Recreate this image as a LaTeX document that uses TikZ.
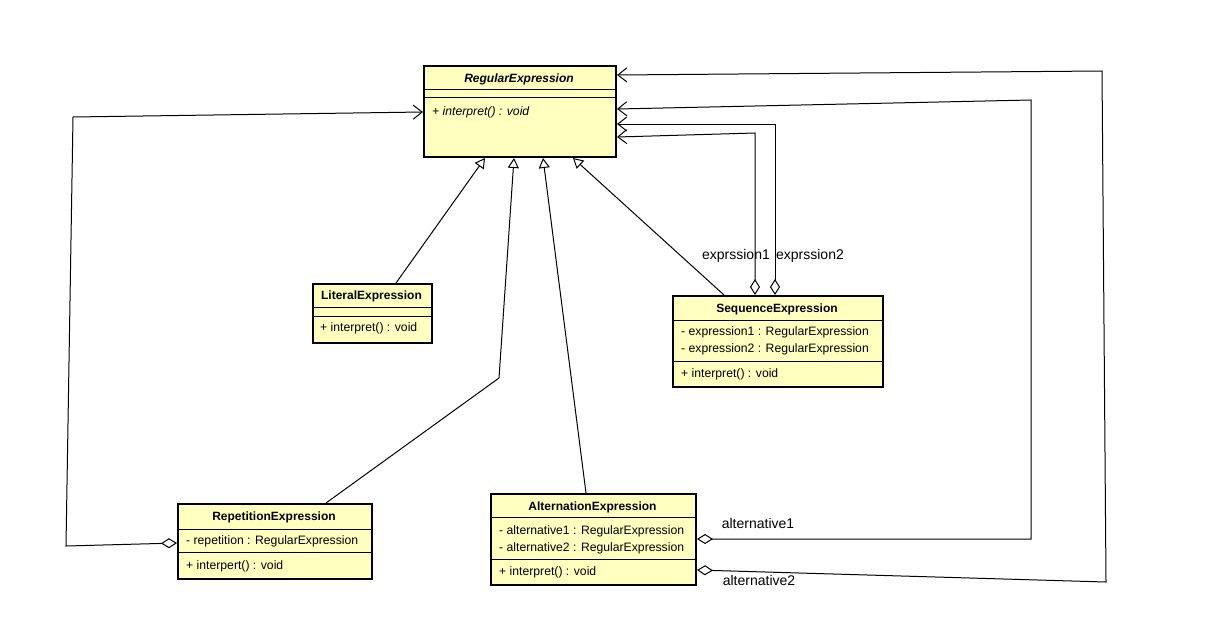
\documentclass[tikz,border=0pt]{standalone}
\usepackage{fontspec}
\setmainfont{Liberation Sans}
\usetikzlibrary{arrows.meta,calc}
\definecolor{clsfill}{RGB}{255,255,192}
\tikzset{
  cls/.style={draw, line width=2pt, fill=clsfill, anchor=north west, inner sep=0pt},
  sepline/.style={line width=1pt},
  ttl/.style={font=\fontsize{12}{14}\selectfont\bfseries, inner sep=0pt},
  mbr/.style={font=\fontsize{12.2}{14}\selectfont, anchor=west, inner sep=0pt},
  lbl/.style={font=\fontsize{14}{16}\selectfont, inner sep=0pt},
  inh/.style={line width=1pt, -{Triangle[open, length=10pt, width=11pt, fill=white]}},
  agg/.style={line width=1pt, {Diamond[open, length=16pt, width=10pt, fill=white]}-{Straight Barb[length=9pt, width=14pt]}},
}
\begin{document}
\begin{tikzpicture}[x=1pt, y=-1pt]
\useasboundingbox (0,0) rectangle (1214,632);

% RegularExpression
\node[cls, minimum width=192pt, minimum height=91pt] (re) at (423,65) {};
\node[ttl, font=\fontsize{12}{14}\selectfont\bfseries\itshape] (reT) at (519,79) {RegularExpression};
\draw[sepline] (423,89) -- (615,89);
\draw[sepline] (423,97) -- (615,97);
\node[mbr, font=\fontsize{12.2}{14}\selectfont\itshape] (reM) at (432,112) {+ interpret() : void};

% LiteralExpression
\node[cls, minimum width=119pt, minimum height=59pt] (lit) at (312,283) {};
\node[ttl] (litT) at (371.5,296) {LiteralExpression};
\draw[sepline] (312,307) -- (431,307);
\draw[sepline] (312,316) -- (431,316);
\node[mbr] (litM) at (320,328) {+ interpret() : void};

% SequenceExpression
\node[cls, minimum width=210pt, minimum height=91pt] (seq) at (672,295) {};
\node[ttl] (seqT) at (777,309) {SequenceExpression};
\draw[sepline] (672,320) -- (882,320);
\node[mbr] (seqA1) at (681,332) {- expression1 : RegularExpression};
\node[mbr] (seqA2) at (681,349) {- expression2 : RegularExpression};
\draw[sepline] (672,361) -- (882,361);
\node[mbr] (seqM) at (681,374) {+ interpret() : void};

% RepetitionExpression
\node[cls, minimum width=194pt, minimum height=75pt] (rep) at (177,503) {};
\node[ttl] (repT) at (274,517) {RepetitionExpression};
\draw[sepline] (177,529) -- (371,529);
\node[mbr] (repA) at (186,541) {- repetition : RegularExpression};
\draw[sepline] (177,552) -- (371,552);
\node[mbr] (repM) at (186,566) {+ interpert() : void};

% AlternationExpression
\node[cls, minimum width=205pt, minimum height=91pt] (alt) at (490,493) {};
\node[ttl] (altT) at (592.5,507) {AlternationExpression};
\draw[sepline] (490,517) -- (695,517);
\node[mbr] (altA1) at (499,531) {- alternative1 : RegularExpression};
\node[mbr] (altA2) at (499,548) {- alternative2 : RegularExpression};
\draw[sepline] (490,559) -- (695,559);
\node[mbr] (altM) at (499,572) {+ interpret() : void};

% inheritance
\draw[inh] ($(lit.north west)+(84,0)$) -- ($(re.south west)+(62,0)$);
\draw[inh] ($(rep.north west)+(149,0)$) -- (499,378) -- ($(re.south west)+(91,0)$);
\draw[inh] ($(alt.north west)+(96,0)$) -- ($(re.south west)+(120,0)$);
\draw[inh] ($(seq.north west)+(52,0)$) -- ($(re.south west)+(150,0)$);

% aggregations
\draw[agg] ($(rep.north west)+(0,40)$) -- (66,546) -- (73,117) -- ($(re.north west)+(0,47)$);
\draw[agg] ($(seq.north west)+(83,0)$) -- (755,133) -- ($(re.north east)+(0,72)$);
\draw[agg] ($(seq.north west)+(103,0)$) -- (775,124) -- ($(re.north east)+(0,59)$);
\draw[agg] ($(alt.north east)+(0,46)$) -- (1031,539) -- (1031,100) -- ($(re.north east)+(0,44)$);
\draw[agg] ($(alt.north east)+(0,77)$) -- (1106,582) -- (1102,71) -- ($(re.north east)+(0,10)$);

% role labels
\node[lbl] (l1) at (736,256) {exprssion1};
\node[lbl] (l2) at (810,256) {exprssion2};
\node[lbl] (l3) at (758,523) {alternative1};
\node[lbl] (l4) at (759,580) {alternative2};
\end{tikzpicture}
\end{document}
